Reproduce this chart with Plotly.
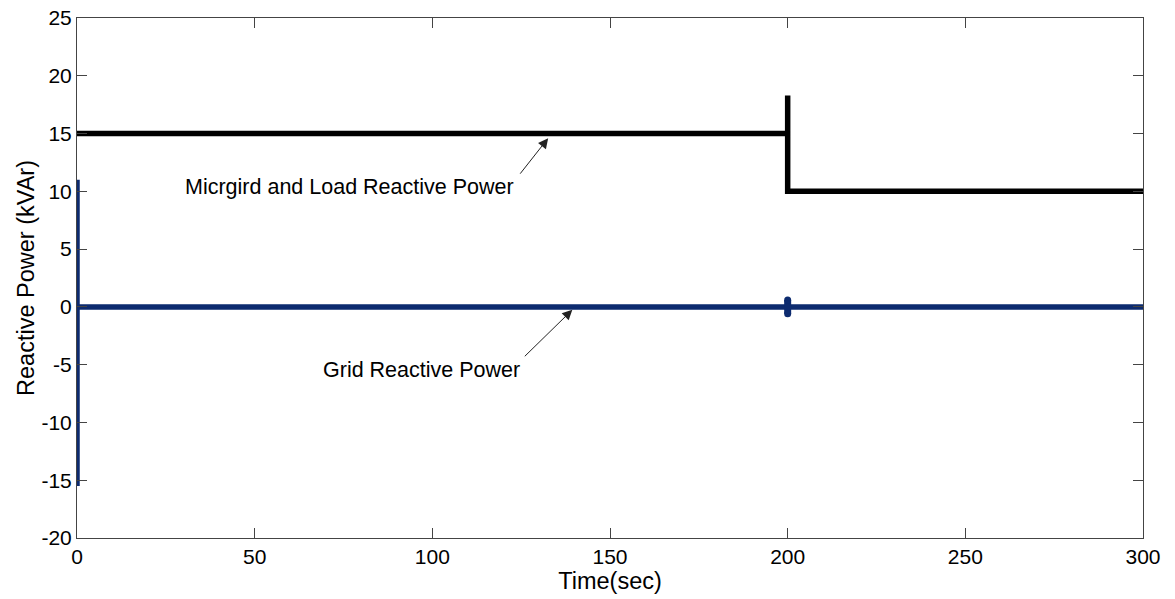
import plotly.graph_objects as go

# Data
mg_t = [0, 200, 200, 200, 300]
mg_q = [15, 15, 18.3, 10, 10]
grid_t = [0, 0, 0, 200, 200, 300]
grid_q = [11, -15.5, 0, 0, 0, 0]
blip_t = [200, 200]
blip_q = [0.6, -0.6]
xticks = [0, 50, 100, 150, 200, 250, 300]
yticks = [-20, -15, -10, -5, 0, 5, 10, 15, 20, 25]

FONT = "Liberation Sans, Arial, sans-serif"

fig = go.Figure()
fig.add_trace(go.Scatter(x=mg_t, y=mg_q, mode="lines",
                         line=dict(color="black", width=5.5), showlegend=False))
fig.add_trace(go.Scatter(x=grid_t, y=grid_q, mode="lines",
                         line=dict(color="#0d2b6f", width=5.5), showlegend=False))
fig.add_trace(go.Scatter(x=blip_t, y=blip_q, mode="lines+markers",
                         line=dict(color="#0d2b6f", width=7),
                         marker=dict(size=7, color="#0d2b6f"), showlegend=False))

annotations = [
    dict(x=132.6, y=14.6, xref="x", yref="y", axref="x", ayref="y",
         ax=124.4, ay=11.4, text="", showarrow=True, arrowhead=2,
         arrowsize=2, arrowwidth=1, arrowcolor="#222"),
    dict(x=139.4, y=-0.25, xref="x", yref="y", axref="x", ayref="y",
         ax=125.6, ay=-4.4, text="", showarrow=True, arrowhead=2,
         arrowsize=2, arrowwidth=1, arrowcolor="#222"),
    dict(x=76.8, y=10.4, xref="x", yref="y", text="Micrgird and Load Reactive Power",
         showarrow=False, font=dict(family=FONT, size=21.5, color="black")),
    dict(x=96.9, y=-5.45, xref="x", yref="y", text="Grid Reactive Power",
         showarrow=False, font=dict(family=FONT, size=21.5, color="black")),
]
for a in annotations:
    fig.add_annotation(**a)

axis_common = dict(showgrid=False, zeroline=False, showline=True, linecolor="#444",
                   linewidth=1, mirror="ticks", ticks="inside", ticklen=10,
                   tickcolor="#444", automargin=False,
                   tickfont=dict(family=FONT, size=21, color="black"))

fig.update_xaxes(range=[0, 300], tickvals=xticks, ticktext=[str(v) for v in xticks],
                 title=dict(text="Time(sec)", font=dict(family=FONT, size=23.5, color="black"),
                            standoff=0), **axis_common)
fig.update_yaxes(range=[-20, 25], tickvals=yticks, ticktext=[str(v) for v in yticks],
                 title=dict(text="Reactive Power (kVAr)", font=dict(family=FONT, size=23.5, color="black"),
                            standoff=0), **axis_common)

fig.update_layout(width=1175, height=599, margin=dict(l=77, r=32, t=18, b=61, autoexpand=False),
                  plot_bgcolor="white", paper_bgcolor="white")

fig.write_html("out.html")
